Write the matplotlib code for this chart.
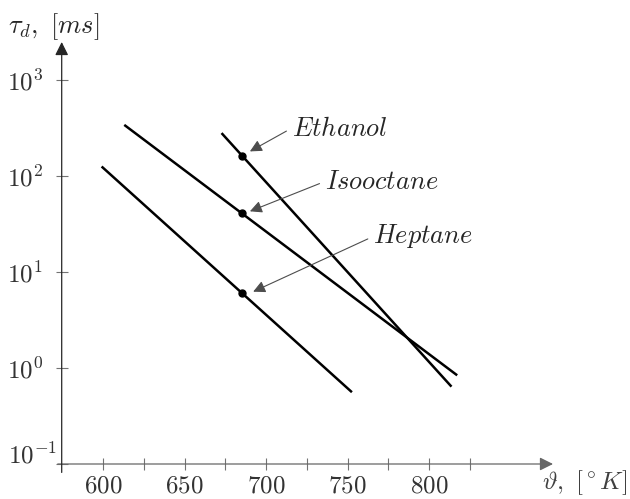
import numpy as np
import matplotlib.pyplot as plt
from matplotlib.ticker import FixedLocator, NullLocator, NullFormatter
import matplotlib.transforms as mtransforms

plt.rcParams['mathtext.fontset'] = 'cm'
plt.rcParams['font.family'] = 'serif'

# fuel lines: end points (T in K, tau in ms)
fuels = ['Ethanol', 'Isooctane', 'Heptane']
T_start = [672.6, 612.9, 599.0]
T_end = [813.7, 817.2, 752.6]
tau_start = [281.0, 342.0, 126.0]
tau_end = [0.64, 0.84, 0.56]

# marked points on each line
T_dot = [685.0, 685.0, 685.0]
tau_dot = [162.0, 41.0, 6.0]

# label positions and arrow tips
label_T = [715.6, 736.0, 765.6]
label_tau = [316.0, 88.0, 23.5]
tip_T = [690.0, 690.0, 692.0]
tip_tau = [181.0, 43.0, 6.25]

x_major = [600, 650, 700, 750, 800]
x_minor = [625, 675, 725, 775, 825]
y_ticks = [0.1, 1, 10, 100, 1000]
y_labels = [r'$10^{-1}$', r'$10^{0}$', r'$10^{1}$', r'$10^{2}$', r'$10^{3}$']

fig = plt.figure(figsize=(6.3, 4.99), dpi=100)
ax = fig.add_axes([61.7 / 630, (499 - 464) / 499, (553 - 61.7) / 630, (464 - 42) / 499])

for i in range(len(fuels)):
    ax.plot([T_start[i], T_end[i]], [tau_start[i], tau_end[i]], color='black', lw=1.8,
            solid_capstyle='butt')
    ax.plot(T_dot[i], tau_dot[i], 'o', color='black', ms=5)
    ax.annotate('$' + fuels[i] + '$', xy=(tip_T[i], tip_tau[i]),
                xytext=(label_T[i], label_tau[i]), ha='left', va='center', fontsize=19,
                color='0.15',
                arrowprops=dict(arrowstyle='-|>', color='0.3', lw=0.8,
                                mutation_scale=18, shrinkA=2, shrinkB=0,
                                relpos=(0, 0.5)))

ax.set_yscale('log')
ax.set_xlim(574.5, 876)
ax.set_ylim(0.1, 2500)

ax.xaxis.set_major_locator(FixedLocator(x_major))
ax.xaxis.set_minor_locator(FixedLocator(x_minor))
ax.xaxis.set_minor_formatter(NullFormatter())
ax.set_xticklabels([r'$%d$' % v for v in x_major])
ax.yaxis.set_major_locator(FixedLocator(y_ticks))
ax.yaxis.set_minor_locator(NullLocator())
ax.set_yticklabels([''] + y_labels[1:])

ax.tick_params(which='both', direction='inout', length=9, width=0.8, color='0.45',
               labelsize=18, labelcolor='0.2')
ax.tick_params(axis='y', pad=35)
ax.tick_params(axis='x', pad=3)
for lab in ax.get_yticklabels():
    lab.set_ha('left')

# lowest y label sits a bit above the axis
trans = mtransforms.blended_transform_factory(fig.transFigure, ax.transData)
ax.text(8 / 630, y_ticks[0], y_labels[0], transform=trans + mtransforms.ScaledTranslation(0, 8 / 100, fig.dpi_scale_trans),
        fontsize=18, color='0.2', ha='left', va='center')

for s in ['top', 'right', 'left', 'bottom']:
    ax.spines[s].set_visible(False)

# axis lines with arrow heads
ax.annotate('', xy=(1, 0), xycoords='axes fraction', xytext=(-0.008, 0),
            arrowprops=dict(arrowstyle='-|>', color='0.4', lw=0.9, mutation_scale=20,
                            shrinkA=0, shrinkB=0))
ax.annotate('', xy=(0, 1), xycoords='axes fraction', xytext=(0, -0.02),
            arrowprops=dict(arrowstyle='-|>', color='0.15', lw=0.9, mutation_scale=20,
                            shrinkA=0, shrinkB=0))

fig.text(8 / 630, 1 - 27 / 499, r'$\tau_d,\ [ms]$', fontsize=19, ha='left', va='center',
         color='0.15')
fig.text(542 / 630, 1 - 483 / 499, r'$\vartheta,\ [^\circ K]$', fontsize=18,
         ha='left', va='center', color='0.25')

fig.savefig('out.png', dpi=100)
